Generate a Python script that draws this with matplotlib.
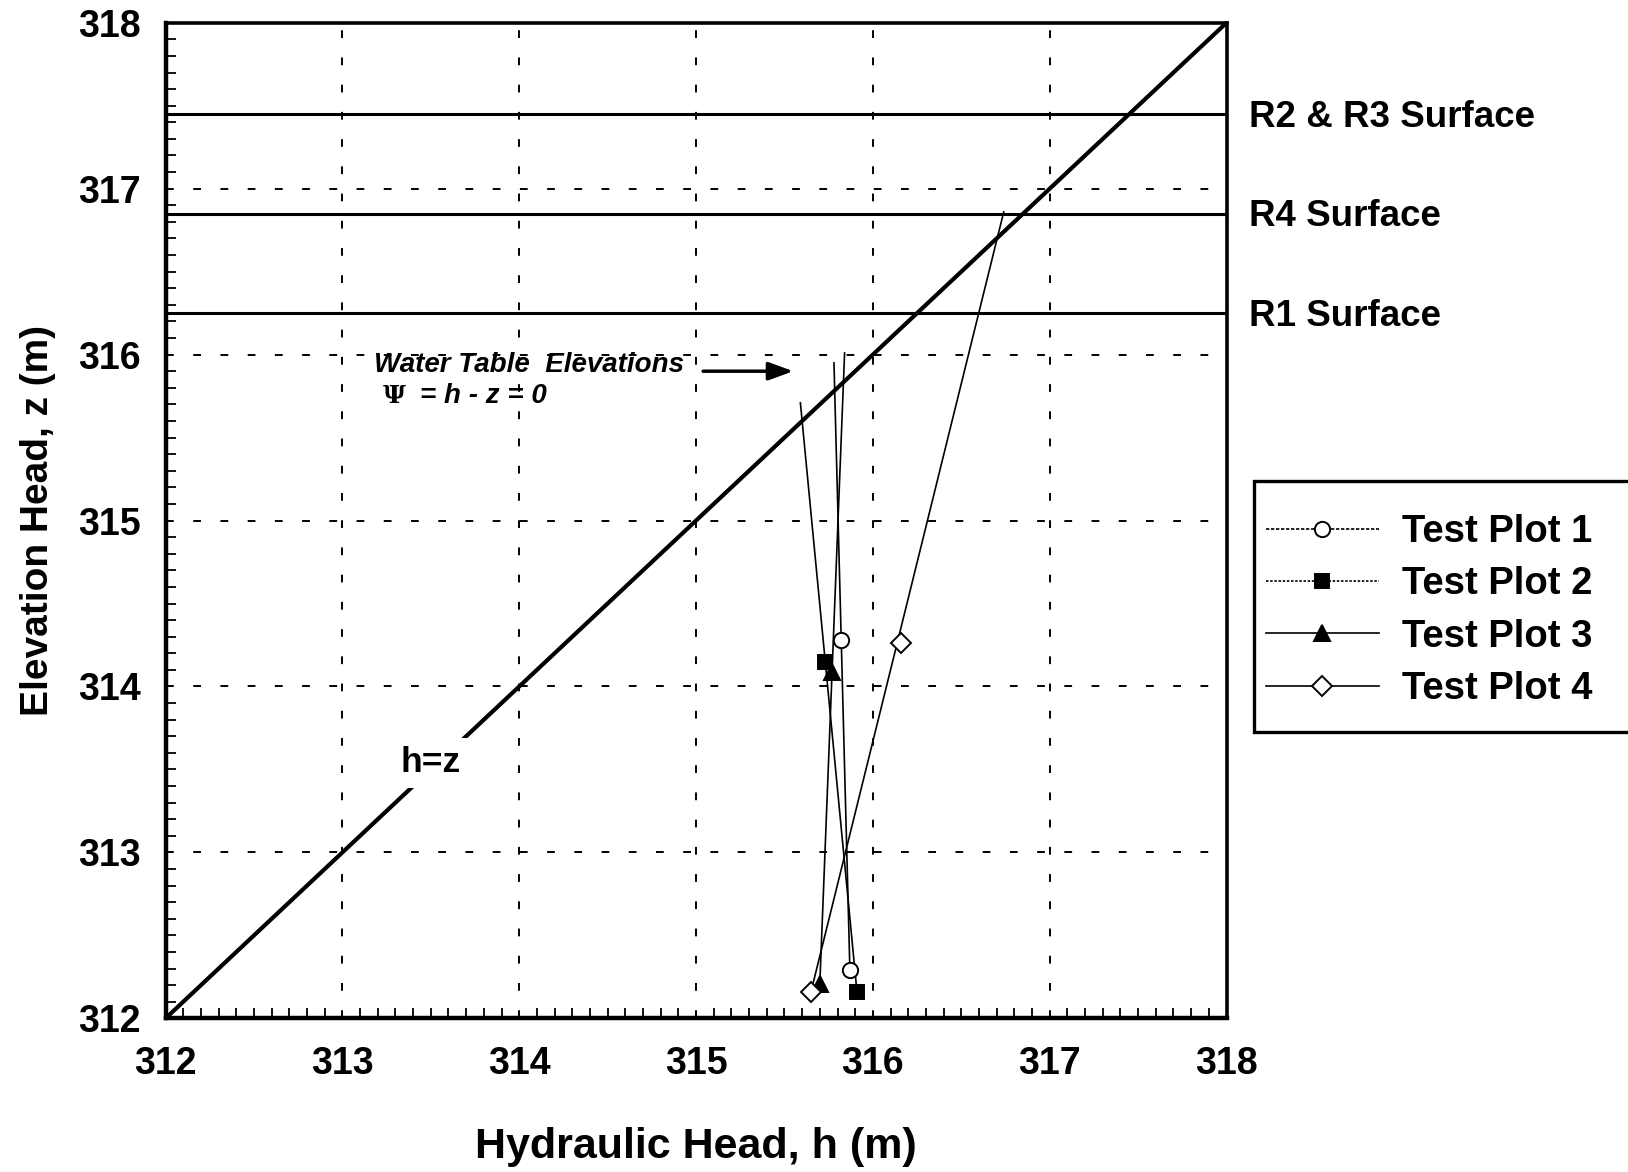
import matplotlib
matplotlib.use("Agg")
import matplotlib.pyplot as plt
from matplotlib.lines import Line2D
from matplotlib.patches import Rectangle
from matplotlib.ticker import MultipleLocator
import matplotlib.transforms as mtransforms

plt.rcParams['font.family'] = ['Liberation Sans', 'DejaVu Sans']
plt.rcParams['font.weight'] = 'bold'

# Measured heads (h) and elevations (z) at each test plot, in metres
plot_names = ["Test Plot 1", "Test Plot 2", "Test Plot 3", "Test Plot 4"]
h_obs = [[315.82, 315.87], [315.73, 315.91], [315.77, 315.70], [316.16, 315.65]]
z_obs = [[314.28, 312.29], [314.15, 312.16], [314.09, 312.21], [314.26, 312.16]]

# Upper end of each fitted head profile
h_top = [315.78, 315.59, 315.84, 316.74]
z_top = [315.95, 315.71, 316.01, 316.86]

# Ground surface elevations of the plots
surface_z = [317.45, 316.85, 316.25]
surface_labels = ["R2 & R3 Surface", "R4 Surface", "R1 Surface"]

# Axis range and ticks
h_range = [312, 318]
ticks = [312, 313, 314, 315, 316, 317, 318]

markers = ['o', 's', '^', 'D']
fills = ['white', 'black', 'black', 'white']
msizes = [11, 10, 11, 10]
legend_styles = [(0, (2, 1)), (0, (1.5, 1)), '-', '-']

fig = plt.figure(figsize=(16.28, 11.72), dpi=100)
ax = fig.add_axes([0.1017, 0.1311, 0.6517, 0.8495])

ax.set_xlim(h_range)
ax.set_ylim(h_range)

# Grid
ax.grid(True, which='major', color='black', linestyle=(0, (4, 10)), linewidth=1.4)
ax.set_axisbelow(True)

# Surface lines with labels outside the right spine
label_tf = mtransforms.blended_transform_factory(ax.transAxes, ax.transData) + \
    mtransforms.ScaledTranslation(0, -3 / 100, fig.dpi_scale_trans)
for zs, lab in zip(surface_z, surface_labels):
    ax.axhline(zs, color='black', linewidth=2.2, zorder=3)
    ax.text(1.021, zs, lab, transform=label_tf,
            ha='left', va='center', fontsize=26.5, fontweight='bold', clip_on=False)

# h = z line
ax.plot(h_range, h_range, color='black', linewidth=3.0, zorder=4, solid_capstyle='butt')
ax.text(313.50, 313.54, "h=z", fontsize=25.5, fontweight='bold', ha='center', va='center', zorder=5,
        bbox=dict(facecolor='white', edgecolor='none', pad=6))

# Test plot profiles
for i in range(4):
    ax.plot([h_obs[i][1], h_top[i]], [z_obs[i][1], z_top[i]], color='black', linewidth=1.2, zorder=6)
    ax.plot(h_obs[i], z_obs[i], linestyle='none', marker=markers[i], markersize=msizes[i],
            markerfacecolor=fills[i], markeredgecolor='black', markeredgewidth=1.4, zorder=7)

# Water table annotation
ax.text(313.18, 315.94, "Water Table  Elevations", fontsize=20, fontweight='bold', style='italic',
        ha='left', va='center', zorder=8)
ax.text(313.23, 315.75, "Ψ", fontsize=18, fontweight='bold', ha='left', va='center', zorder=8,
        family=['DejaVu Serif'])
ax.text(313.44, 315.75, "= h - z = 0", fontsize=20, fontweight='bold', style='italic',
        ha='left', va='center', zorder=8)
ax.annotate("", xy=(315.55, 315.90), xytext=(315.04, 315.90), zorder=8,
            arrowprops=dict(arrowstyle='-|>,head_length=1.5,head_width=0.55', color='black',
                            linewidth=2.5, shrinkA=0, shrinkB=0))

# Ticks and spines
ax.set_xticks(ticks)
ax.set_yticks(ticks)
ax.xaxis.set_minor_locator(MultipleLocator(0.1))
ax.yaxis.set_minor_locator(MultipleLocator(0.1))
ax.tick_params(which='major', direction='in', length=0, pad=20, labelsize=27)
ax.tick_params(axis='y', which='major', pad=18)
ax.tick_params(which='minor', direction='in', length=7, width=1.3, top=False, right=False)
for lab in ax.get_xticklabels() + ax.get_yticklabels():
    lab.set_fontweight('bold')
for side in ['left', 'bottom']:
    ax.spines[side].set_linewidth(3.2)
for side in ['top', 'right']:
    ax.spines[side].set_linewidth(2.6)

ax.set_xlabel("Hydraulic Head, h (m)", fontsize=31, fontweight='bold', labelpad=32)
ax.set_ylabel("Elevation Head, z (m)", fontsize=28, fontweight='bold', labelpad=16)

# Legend with a square frame that runs off the right edge
fig.patches.append(Rectangle((1254 / 1628, 1 - 732 / 1172), 0.3, 251 / 1172, transform=fig.transFigure,
                             facecolor='white', edgecolor='black', linewidth=2.4, zorder=0))
handles = [Line2D([0], [0], color='black', linewidth=1.2, linestyle=legend_styles[i], marker=markers[i],
                  markersize=msizes[i], markerfacecolor=fills[i], markeredgecolor='black',
                  markeredgewidth=1.4) for i in range(4)]
leg = fig.legend(handles, plot_names, loc='upper left', bbox_to_anchor=(1266 / 1628, 1 - 514 / 1172),
                 frameon=False, handlelength=2.95, handletextpad=0.6, labelspacing=0.43,
                 borderpad=0, borderaxespad=0, prop={'weight': 'bold', 'size': 27.5})

fig.savefig("out.png", dpi=100)
